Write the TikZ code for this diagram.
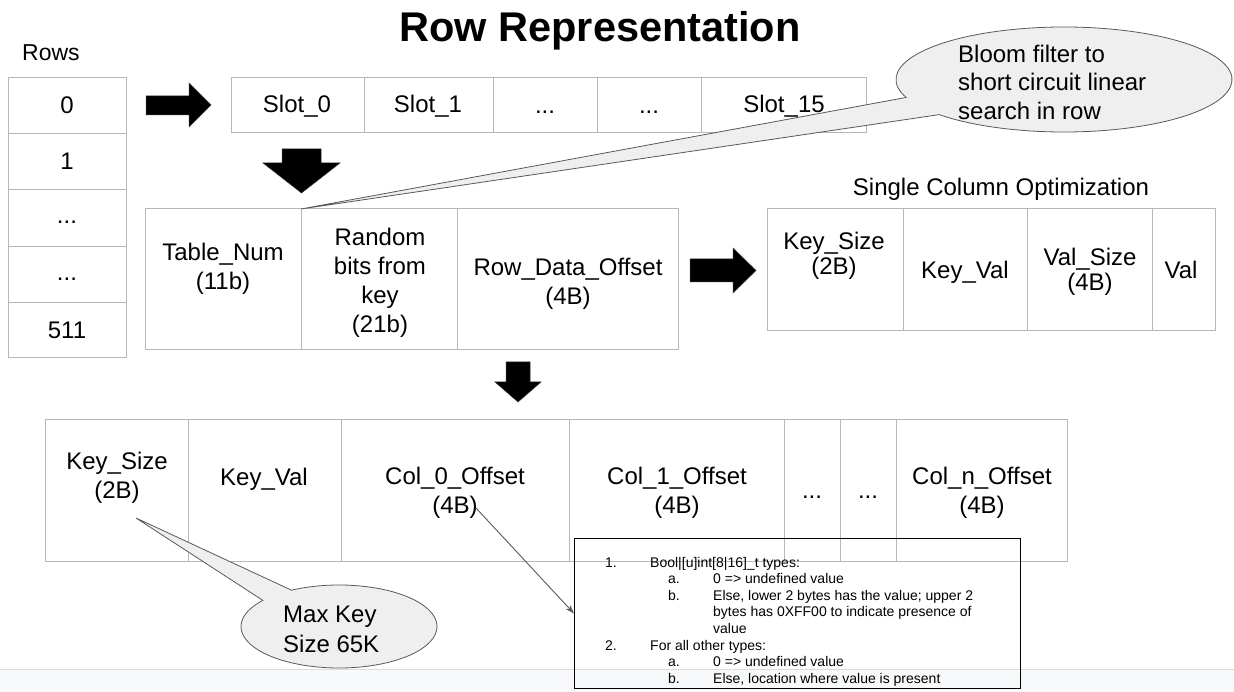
\documentclass[tikz,border=0pt]{standalone}
\usepackage{fontspec}
\setmainfont{Liberation Sans}
\usetikzlibrary{arrows.meta}
\definecolor{cellgray}{HTML}{B7B7B7}
\definecolor{callfill}{HTML}{EFEFEF}
\definecolor{calldraw}{HTML}{595959}
\definecolor{bandfill}{HTML}{F8F9FA}
\definecolor{bandline}{HTML}{DADCE0}
\newcommand\cellnode[5]{\node[cell,minimum width=#4pt,minimum height=#5pt] (#1) at (#2,#3) {};}
\begin{document}
\begin{tikzpicture}[x=1pt,y=-1pt,
  cell/.style={draw=cellgray,line width=1pt,anchor=north west,inner sep=0pt,outer sep=0pt},
  lbl/.style={font=\fontsize{24}{29}\selectfont,align=center,inner sep=0pt},
  tightlbl/.style={font=\fontsize{24}{25.5}\selectfont,align=center,inner sep=0pt},
  note/.style={font=\fontsize{14}{17}\selectfont,anchor=base west,inner sep=0pt},
  callout/.style={fill=callfill,draw=calldraw,line width=0.8pt},
  blockarrow/.style={fill=black,draw=black!80,line width=0.5pt},
  thinarrow/.style={draw=calldraw,line width=0.9pt,-{Stealth[length=9pt,width=6pt]}}]
\useasboundingbox (0,0) rectangle (1234,692);
% bottom band
\fill[bandfill] (0,669) rectangle (1234,692);
\draw[bandline,line width=1pt] (0,669) -- (1234,669);

% title and captions
\node[font=\fontsize{41.5}{46}\selectfont\bfseries,anchor=base,inner sep=0pt] (title) at (600,42) {Row Representation};
\node[font=\fontsize{23}{28}\selectfont,anchor=base,inner sep=0pt] (rowscap) at (51,61) {Rows};
\node[font=\fontsize{24}{29}\selectfont,anchor=base,inner sep=0pt] (sccap) at (1001,196) {Single Column Optimization};

% rows
\cellnode{row0}{8}{78}{118}{56}
\cellnode{row1}{8}{134}{118}{56}
\cellnode{row2}{8}{190}{118}{57}
\cellnode{row3}{8}{247}{118}{56}
\cellnode{row4}{8}{303}{118}{55}
\node[lbl] (r0t) at (67,105) {0};
\node[lbl] (r1t) at (67,161) {1};
\node[lbl] (r2t) at (67,222) {...};
\node[lbl] (r3t) at (67,279) {...};
\node[lbl] (r4t) at (67,330) {511};

% slots
\cellnode{s0}{231}{78}{133}{55}
\cellnode{s1}{364}{78}{129}{55}
\cellnode{s2}{493}{78}{104}{55}
\cellnode{s3}{597}{78}{104}{55}
\cellnode{s4}{701}{78}{165}{55}
\node[lbl] (s0t) at (297,106) {Slot\_0};
\node[lbl] (s1t) at (428,106) {Slot\_1};
\node[lbl] (s2t) at (545,112) {...};
\node[lbl] (s3t) at (649,112) {...};
\node[lbl] (s4t) at (784,106) {Slot\_15};

% middle entry
\cellnode{m0}{145}{209}{156}{141}
\cellnode{m1}{301}{209}{156}{141}
\cellnode{m2}{457}{209}{221}{141}
\node[lbl] (m0t) at (223,269) {Table\_Num\\(11b)};
\node[lbl] (m1t) at (380,283) {Random\\bits from\\key\\(21b)};
\node[lbl] (m2t) at (568,284) {Row\_Data\_Offset\\(4B)};

% single column optimization
\cellnode{c0}{767}{209}{136}{122}
\cellnode{c1}{903}{209}{124}{122}
\cellnode{c2}{1027}{209}{125}{122}
\cellnode{c3}{1152}{209}{63}{122}
\node[tightlbl] (c0t) at (834,256) {Key\_Size\\(2B)};
\node[lbl] (c1t) at (965,272) {Key\_Val};
\node[tightlbl] (c2t) at (1090,272) {Val\_Size\\(4B)};
\node[lbl] (c3t) at (1181,270) {Val};

% bottom row data
\cellnode{b0}{45}{419}{143}{142}
\cellnode{b1}{188}{419}{153}{142}
\cellnode{b2}{341}{419}{228}{142}
\cellnode{b3}{569}{419}{215}{142}
\cellnode{b4}{784}{419}{56}{142}
\cellnode{b5}{840}{419}{56}{142}
\cellnode{b6}{896}{419}{171}{142}
\node[lbl] (b0t) at (117,478) {Key\_Size\\(2B)};
\node[lbl] (b1t) at (264,479) {Key\_Val};
\node[lbl] (b2t) at (455,493) {Col\_0\_Offset\\(4B)};
\node[lbl] (b3t) at (677,493) {Col\_1\_Offset\\(4B)};
\node[lbl] (b4t) at (812,497) {...};
\node[lbl] (b5t) at (868,497) {...};
\node[lbl] (b6t) at (982,493) {Col\_n\_Offset\\(4B)};

% block arrows
\path[blockarrow] (146,96) -- (189,96) -- (189,83) -- (211,105) -- (189,127) -- (189,115) -- (146,115) -- cycle;
\path[blockarrow] (282,149) -- (321,149) -- (321,163) -- (340,163) -- (301.5,193) -- (263,163) -- (282,163) -- cycle;
\path[blockarrow] (690,259) -- (733,259) -- (733,248) -- (756,270.5) -- (733,293) -- (733,282) -- (690,282) -- cycle;
\path[blockarrow] (506,362) -- (530,362) -- (530,382) -- (541,382) -- (518,402) -- (495,382) -- (506,382) -- cycle;

% notes box
\node[draw=black,line width=1pt,anchor=north west,inner sep=0pt,minimum width=446pt,minimum height=150pt] (notes) at (574,538) {};
\node[note] (n1) at (605,567) {1.};
\node[note] (n1t) at (650,567) {Bool|[u]int[8|16]\_t types:};
\node[note] (n1a) at (668,583.6) {a.};
\node[note] (n1at) at (713,583.6) {0 => undefined value};
\node[note] (n1b) at (668,600.2) {b.};
\node[note] (n1bt) at (713,600.2) {Else, lower 2 bytes has the value; upper 2};
\node[note] (n1bt2) at (713,616.8) {bytes has 0XFF00 to indicate presence of};
\node[note] (n1bt3) at (713,633.4) {value};
\node[note] (n2) at (605,650) {2.};
\node[note] (n2t) at (650,650) {For all other types:};
\node[note] (n2a) at (668,666.6) {a.};
\node[note] (n2at) at (713,666.6) {0 => undefined value};
\node[note] (n2b) at (668,683.2) {b.};
\node[note] (n2bt) at (713,683.2) {Else, location where value is present};

% thin arrow from Col_0_Offset to notes
\coordinate (colsrc) at (476,508);
\draw[thinarrow] (colsrc) -- (notes.west);

% bloom filter callout
\coordinate (bloomtip) at (m0.north east);
\path[callout] (bloomtip) -- (906.13,97.46) arc[start angle=160,end angle=498,x radius=168,y radius=52.5] -- cycle;
\node[font=\fontsize{24}{28.5}\selectfont,align=left,anchor=west,inner sep=0pt] (bloomtxt) at (958,82) {Bloom filter to\\short circuit linear\\search in row};

% max key callout
\coordinate (keytip) at (136,518);
\path[callout] (keytip) -- (291.5,590.2) arc[start angle=241,end angle=579,x radius=98,y radius=41.5] -- cycle;
\node[font=\fontsize{24}{30}\selectfont,align=left,anchor=west,inner sep=0pt] (keytxt) at (283,629) {Max Key\\Size 65K};
\end{tikzpicture}
\end{document}
